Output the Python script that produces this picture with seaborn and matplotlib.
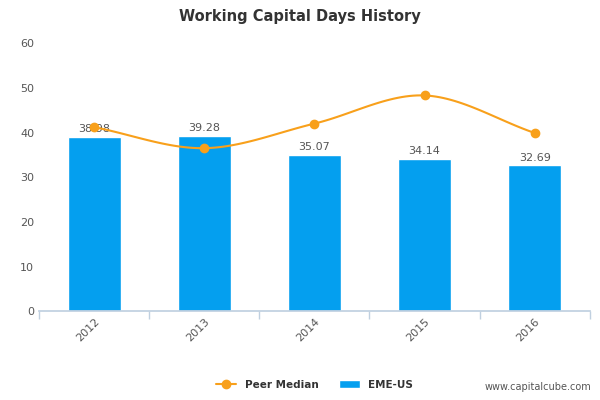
import numpy as np
import pandas as pd
import matplotlib
matplotlib.use("Agg")
import matplotlib.pyplot as plt
import seaborn as sns

years = ["2012", "2013", "2014", "2015", "2016"]
eme_us = [38.98, 39.28, 35.07, 34.14, 32.69]
peer_median = [41.2, 36.5, 42.0, 48.3, 39.9]

sns.set_theme(style="white")
plt.rcParams['font.family'] = ['DejaVu Sans']
fig = plt.figure(figsize=(6, 4), dpi=100)
ax = fig.add_axes([0.065, 0.222, 0.918, 0.67])

df = pd.DataFrame({"year": years, "val": eme_us})
sns.barplot(data=df, x="year", y="val", color="#049FEF", saturation=1, width=0.48, ax=ax, label="EME-US")
for i, v in enumerate(eme_us):
    ax.text(i, v + 0.6, f"{v:.2f}", ha="center", va="bottom", fontsize=8, color="#555555")

# smooth curve through the peer points (Catmull-Rom, rendering only)
x = np.arange(len(years), dtype=float)
y = np.array(peer_median)
xs, ys = [], []
P = np.concatenate([[2*y[0]-y[1]], y, [2*y[-1]-y[-2]]])
for i in range(len(y)-1):
    t = np.linspace(0, 1, 30)
    p0, p1, p2, p3 = P[i], P[i+1], P[i+2], P[i+3]
    yy = 0.5*((2*p1) + (-p0+p2)*t + (2*p0-5*p1+4*p2-p3)*t**2 + (-p0+3*p1-3*p2+p3)*t**3)
    xs.extend(x[i]+t); ys.extend(yy)
ax.plot(xs, ys, color="#F8A01B", lw=1.5, zorder=3)
ax.plot(x, y, "o", color="#F8A01B", ms=6, zorder=4)
ax.plot([], [], "-o", color="#F8A01B", ms=6, label="Peer Median")

ax.set_xlim(-0.5, 4.5)
ax.set_ylim(0, 60)
ax.set_yticks(range(0, 61, 10))
ax.set_xlabel(""); ax.set_ylabel("")
for s in ["top", "right", "left"]:
    ax.spines[s].set_visible(False)
ax.spines["bottom"].set_color("#C0D0E0")
ax.tick_params(axis="y", labelsize=8, colors="#555555", length=0)
ax.tick_params(axis="x", labelsize=8, colors="#555555", length=5, color="#C0D0E0", direction="out", bottom=True)
ax.set_xticks(np.arange(-0.5, 5, 1), minor=True)
ax.tick_params(axis="x", which="minor", length=6, color="#C0D0E0", bottom=True)
ax.tick_params(axis="x", which="major", length=0)
for lbl in ax.get_xticklabels():
    lbl.set_rotation(45); lbl.set_ha("right"); lbl.set_rotation_mode("anchor")

fig.text(0.5, 0.96, "Working Capital Days History", ha="center", va="center", fontsize=10.5, fontweight="bold", color="#333333")
leg = ax.legend(loc="upper center", bbox_to_anchor=(0.5, -0.22), ncol=2, frameon=False, fontsize=7.5, handlelength=2)
for t in leg.get_texts():
    t.set_fontweight("bold"); t.set_color("#333333")
fig.text(0.985, 0.02, "www.capitalcube.com", ha="right", va="bottom", fontsize=7, color="#555555")
fig.savefig("out.png", dpi=100)
